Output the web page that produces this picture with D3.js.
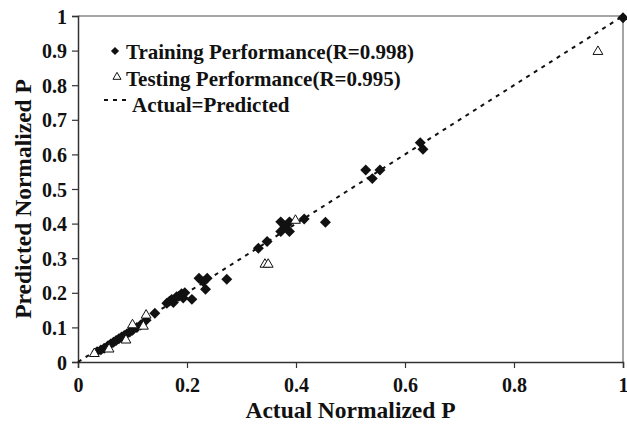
<!DOCTYPE html>
<html><head><meta charset="utf-8">
<script src="https://cdn.jsdelivr.net/npm/d3@7"></script>
<style>body{margin:0;background:#fff}svg{display:block}</style>
</head><body>
<svg id="c" width="627" height="433"></svg>
<script>
const trainX = [1.0,0.628,0.633,0.528,0.540,0.554,0.415,0.454,0.372,0.388,0.380,0.372,0.388,0.331,0.347,0.222,0.237,0.230,0.273,0.234,0.163,0.168,0.172,0.175,0.181,0.185,0.190,0.193,0.196,0.209,0.141,0.125,0.035,0.042,0.048,0.055,0.060,0.065,0.070,0.075,0.080,0.085,0.090,0.095,0.100,0.108,0.115];
const trainY = [0.995,0.634,0.615,0.555,0.530,0.555,0.413,0.404,0.405,0.405,0.391,0.377,0.377,0.329,0.348,0.242,0.242,0.232,0.239,0.210,0.170,0.176,0.181,0.172,0.189,0.190,0.197,0.185,0.200,0.181,0.141,0.121,0.030,0.035,0.040,0.047,0.052,0.057,0.062,0.067,0.072,0.077,0.082,0.087,0.092,0.100,0.107];
const testX = [0.954,0.399,0.343,0.349,0.125,0.100,0.120,0.088,0.057,0.030];
const testY = [0.900,0.412,0.285,0.285,0.138,0.110,0.106,0.066,0.040,0.027];
const xTicks = [0,0.2,0.4,0.6,0.8,1];
const xTickLabels = ["0","0.2","0.4","0.6","0.8","1"];
const yTicks = [0,0.1,0.2,0.3,0.4,0.5,0.6,0.7,0.8,0.9,1];
const yTickLabels = ["0","0.1","0.2","0.3","0.4","0.5","0.6","0.7","0.8","0.9","1"];
const legendLabels = ["Training Performance(R=0.998)","Testing Performance(R=0.995)","Actual=Predicted"];

const FONT = "Liberation Serif";
const svg = d3.select("#c");
const x = d3.scaleLinear().domain([0,1]).range([78,623]);
const y = d3.scaleLinear().domain([0,1]).range([362,16]);

svg.append("path").attr("d",`M${x(0)},${y(1)}H${x(1)}V${y(0)}`).attr("fill","none").attr("stroke","#888").attr("stroke-width",1.5);

const xa = svg.append("g").attr("transform",`translate(0,${y(0)})`)
  .call(d3.axisBottom(x).tickValues(xTicks).tickFormat((d,i)=>xTickLabels[i]).tickSize(6).tickPadding(10));
const ya = svg.append("g").attr("transform",`translate(${x(0)},0)`)
  .call(d3.axisLeft(y).tickValues(yTicks).tickFormat((d,i)=>yTickLabels[i]).tickSize(6).tickPadding(5));
[xa,ya].forEach(a=>{
  a.attr("font-family",FONT).attr("font-size",20).attr("font-weight","bold");
  a.selectAll("path").attr("stroke","#333").attr("stroke-width",1.5);
  a.selectAll("line").attr("stroke","#333").attr("stroke-width",1.2);
  a.selectAll("text").attr("fill","#111");
});
ya.selectAll("text").attr("dy","0.35em");

svg.append("text").attr("x",(x(0)+x(1))/2).attr("y",418).attr("text-anchor","middle")
  .attr("font-family",FONT).attr("font-weight","bold").attr("font-size",23.5).attr("fill","#111").text("Actual Normalized P");
svg.append("text").attr("transform",`translate(31,199) rotate(-90)`).attr("text-anchor","middle")
  .attr("font-family",FONT).attr("font-weight","bold").attr("font-size",23.5).attr("fill","#111").text("Predicted Normalized P");

svg.append("line").attr("x1",x(0)).attr("y1",y(0)).attr("x2",x(1)).attr("y2",y(1))
  .attr("stroke","#111").attr("stroke-width",2).attr("stroke-dasharray","4,5");

const tri = d3.symbol().type(d3.symbolTriangle).size(42);

svg.append("g").selectAll("path").data(trainX.map((v,i)=>[v,trainY[i]])).join("path")
  .attr("transform",d=>`translate(${x(d[0])},${y(d[1])}) rotate(45)`)
  .attr("d",d3.symbol().type(d3.symbolSquare).size(60)).attr("fill","#111");

svg.append("g").selectAll("path").data(testX.map((v,i)=>[v,testY[i]])).join("path")
  .attr("transform",d=>`translate(${x(d[0])},${y(d[1])+1})`)
  .attr("d",tri).attr("fill","#fff").attr("stroke","#111").attr("stroke-width",1);

const lg = svg.append("g");
lg.append("path").attr("transform","translate(115,51) rotate(45)").attr("d",d3.symbol().type(d3.symbolSquare).size(34)).attr("fill","#111");
lg.append("path").attr("transform","translate(117,77)").attr("d",d3.symbol().type(d3.symbolTriangle).size(28)).attr("fill","#fff").attr("stroke","#111");
lg.append("line").attr("x1",104).attr("x2",126).attr("y1",100).attr("y2",100).attr("stroke","#111").attr("stroke-width",2).attr("stroke-dasharray","4,5");
lg.selectAll("text").data(legendLabels).join("text")
  .attr("x",(d,i)=>i<2?126:132).attr("y",(d,i)=>59+i*26.5)
  .attr("font-family",FONT).attr("font-weight","bold").attr("font-size",21).attr("fill","#111").text(d=>d);
</script>
</body></html>
